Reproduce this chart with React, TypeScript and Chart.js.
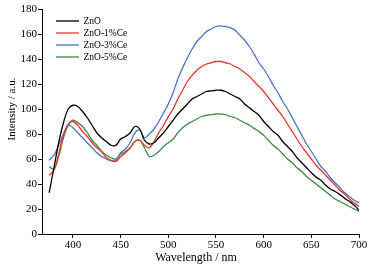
import React, { useEffect, useRef } from "react";
import { Chart, registerables } from "chart.js";

Chart.register(...registerables);

const wavelengths: number[] = [];
for (let w = 375; w <= 700; w += 5) wavelengths.push(w);

const seriesLabels = ["ZnO", "ZnO-1%Ce", "ZnO-3%Ce", "ZnO-5%Ce"];
const seriesColors = ["#000000", "#e8362c", "#4a72c8", "#3f8a47"];

const znO = [
  33, 53, 73, 89, 100, 103, 102, 98, 93, 87, 81, 77, 74, 71, 71, 76, 78, 81, 86, 84,
  75, 72, 73, 77, 81, 86, 91, 96, 100, 104, 108, 110, 112, 114, 114.5, 115, 115, 114, 112, 110,
  108, 104, 101, 98, 95, 90, 86, 82, 79, 74, 70, 66, 61, 57, 53, 49, 45.5, 43, 39, 36,
  34, 31.5, 28.5, 26, 23, 19,
];
const ce1 = [
  47, 51, 64, 79, 88, 90, 87, 82, 78, 73, 69, 66, 61, 59, 58, 62, 65, 69, 74, 75,
  71, 69, 74, 81, 87, 94, 100, 108, 115, 122, 127, 131, 134, 136, 137, 138, 138, 137, 136, 134,
  132, 129, 126, 122, 118, 114, 109, 104, 99, 94, 88, 82, 76, 70, 65, 60, 55, 51, 47, 43,
  39, 35, 32, 28, 25, 22,
];
const ce3 = [
  59, 63, 71, 80, 87, 85, 81, 77, 73, 69, 65, 62, 60, 58.5, 59, 65, 68, 73, 81, 83,
  77, 80, 84, 90, 97, 104, 113, 124, 133, 141, 148, 154, 158, 162, 164, 166, 166.5, 166, 165, 163,
  159, 155, 150, 144, 137, 132, 126, 119, 113, 106, 100, 93, 86, 79, 72, 66, 60, 54, 50, 45,
  41, 37, 33, 30, 27, 25,
];
const ce5 = [
  54, 52, 62, 77, 87, 91, 89, 86, 81, 75, 71, 66, 63, 61, 60, 64, 66, 69, 74, 75,
  69, 62, 63, 66, 70, 73, 76, 81, 85, 88, 90, 92, 94, 95, 95.5, 96, 96, 95.5, 94, 93,
  91, 89, 87, 84.5, 82, 79, 75, 71, 68, 64, 60, 57, 53, 50, 46, 43, 40, 37, 34, 31,
  28, 26, 24, 22, 20, 18,
];
const seriesValues = [znO, ce1, ce3, ce5];

const xTicks = [400, 450, 500, 550, 600, 650, 700];
const xTitle = "Wavelength / nm";
const yTitle = "Intensity / a.u.";
const FONT = "'Liberation Serif', 'Times New Roman', serif";

const overlayPlugin = {
  id: "overlay",
  afterDraw(chart: any) {
    const ctx = chart.ctx;
    ctx.save();
    // legend
    ctx.font = `9.5px ${FONT}`;
    ctx.textBaseline = "middle";
    ctx.textAlign = "left";
    chart.data.datasets.forEach((ds: any, i: number) => {
      const y = 21 + i * 12;
      ctx.strokeStyle = ds.borderColor;
      ctx.lineWidth = 1.3;
      ctx.beginPath();
      ctx.moveTo(56, y);
      ctx.lineTo(79, y);
      ctx.stroke();
      ctx.fillStyle = "#000";
      ctx.fillText(ds.label, 83.5, y + 0.5);
    });
    // axis titles
    ctx.fillStyle = "#000";
    ctx.textAlign = "center";
    ctx.font = `12px ${FONT}`;
    ctx.fillText(xTitle, 196, 258);
    ctx.translate(12, 109);
    ctx.rotate(-Math.PI / 2);
    ctx.font = `11px ${FONT}`;
    ctx.fillText(yTitle, 0, 0);
    ctx.restore();
  },
};

export default function App() {
  const ref = useRef<HTMLCanvasElement>(null);
  useEffect(() => {
    document.body.style.margin = "0";
    const chart = new Chart(ref.current!, {
      type: "line",
      data: {
        datasets: seriesLabels.map((label, i) => ({
          label,
          data: wavelengths.map((w, j) => ({ x: w, y: seriesValues[i][j] })),
          borderColor: seriesColors[i],
          backgroundColor: seriesColors[i],
          borderWidth: 1.3,
          pointRadius: 0,
          tension: 0.4,
          fill: false,
        })),
      },
      options: {
        animation: false,
        responsive: false,
        maintainAspectRatio: false,
        layout: { padding: { top: 9, right: 19, left: 0, bottom: 0 } },
        plugins: { legend: { display: false }, tooltip: { enabled: false } },
        scales: {
          x: {
            type: "linear",
            min: 367.5,
            max: 700,
            afterBuildTicks: (s: any) => {
              s.ticks = xTicks.map((v) => ({ value: v }));
            },
            afterFit: (s: any) => {
              s.height = 39;
            },
            grid: { drawOnChartArea: false, drawTicks: true, tickLength: 4, color: "#000" },
            border: { display: true, color: "#000", width: 1 },
            ticks: { color: "#000", font: { family: FONT, size: 11 }, padding: 1, maxRotation: 0 },
          },
          y: {
            min: 0,
            max: 180,
            ticks: { stepSize: 20, color: "#000", font: { family: FONT, size: 11 }, padding: 1 },
            afterFit: (s: any) => {
              s.width = 42;
            },
            grid: { drawOnChartArea: false, drawTicks: true, tickLength: 4, color: "#000" },
            border: { display: true, color: "#000", width: 1 },
          },
        },
      },
      plugins: [overlayPlugin],
    });
    return () => chart.destroy();
  }, []);
  return <canvas ref={ref} width={378} height={273} style={{ display: "block" }} />;
}
